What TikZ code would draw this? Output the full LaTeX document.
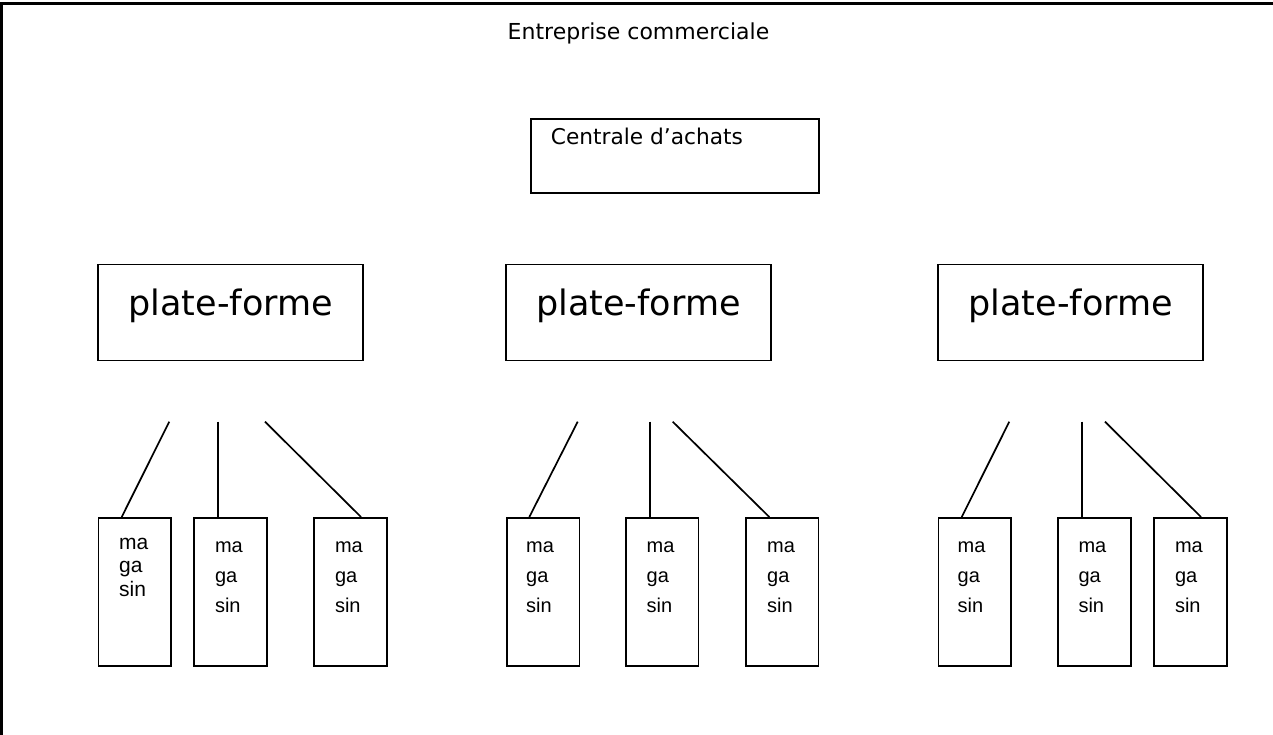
\documentclass[tikz,border=0pt]{standalone}
\usepackage{fontspec}
\newfontfamily\geneva{DejaVu Sans}
\newfontfamily\arialf{Liberation Sans}
\begin{document}
\begin{tikzpicture}[x=1pt,y=-1pt,
  box/.style={draw, line width=1.9pt, rectangle, inner sep=0pt},
  platebox/.style={box, minimum width=265pt, minimum height=96pt, anchor=north west,
    font=\geneva\fontsize{35}{40}\selectfont, text height=26.6pt, text depth=20.6pt},
  magbox/.style={box, minimum width=72.5pt, minimum height=148pt, anchor=north west},
  magtxt/.style={inner sep=0pt, anchor=north west, align=left, font=\arialf\fontsize{20}{30}\selectfont},
  magtxtA/.style={inner sep=0pt, anchor=north west, align=left, font=\arialf\fontsize{21}{23.5}\selectfont},
  link/.style={line width=1.7pt}]
\useasboundingbox (0,0) rectangle (1273,735);
% frame
\coordinate (fbl) at (1.5,735);
\coordinate (ftl) at (1.5,3.5);
\coordinate (ftr) at (1273,3.5);
\draw[line width=2.2pt] (fbl) -- (ftl) -- (ftr);
% title
\node[anchor=base, inner sep=0pt, font=\geneva\fontsize{22}{26}\selectfont] (title) at (638.5,40) {Entreprise commerciale};
% centrale
\node[box, minimum width=288pt, minimum height=73.5pt, anchor=north west] (centrale) at (530,118.3) {};
\node[anchor=base west, inner sep=0pt, font=\geneva\fontsize{21.7}{26}\selectfont] (centraletxt) at (550.7,145) {Centrale d’achats};
% plate-formes
\node[platebox] (p1) at (97.3,263.5) {plate-forme};
\node[platebox] (p2) at (505,263.5) {plate-forme};
\node[platebox] (p3) at (937.3,263.5) {plate-forme};
% magasins
\node[magbox] (m11) at (97.5,517) {};
\node[magbox] (m12) at (193.3,516.7) {};
\node[magbox] (m13) at (313.3,517) {};
\node[magbox] (m21) at (506,517) {};
\node[magbox] (m22) at (625,517) {};
\node[magbox] (m23) at (745,517) {};
\node[magbox] (m31) at (937.5,517) {};
\node[magbox] (m32) at (1057.3,517) {};
\node[magbox] (m33) at (1153.3,517) {};
% magasin texts
\node[magtxtA] (t11) at ([shift={(21.5pt,-20.5pt)}]m11.north west) {ma\\ga\\sin};
\node[magtxt] (t12) at ([shift={(21.5pt,-24.5pt)}]m12.north west) {ma\\ga\\sin};
\node[magtxt] (t13) at ([shift={(21.5pt,-24.5pt)}]m13.north west) {ma\\ga\\sin};
\node[magtxt] (t21) at ([shift={(20pt,-24.5pt)}]m21.north west) {ma\\ga\\sin};
\node[magtxt] (t22) at ([shift={(21.5pt,-24.5pt)}]m22.north west) {ma\\ga\\sin};
\node[magtxt] (t23) at ([shift={(22pt,-24.5pt)}]m23.north west) {ma\\ga\\sin};
\node[magtxt] (t31) at ([shift={(20pt,-24.5pt)}]m31.north west) {ma\\ga\\sin};
\node[magtxt] (t32) at ([shift={(21pt,-24.5pt)}]m32.north west) {ma\\ga\\sin};
\node[magtxt] (t33) at ([shift={(21.5pt,-24.5pt)}]m33.north west) {ma\\ga\\sin};
% connector free ends
\coordinate (c11) at (169.3,421.7);
\coordinate (c12) at (217.7,421.7);
\coordinate (c13) at (265,421.7);
\coordinate (c21) at (577.7,421.7);
\coordinate (c22) at (650,421.7);
\coordinate (c23) at (672.7,421.7);
\coordinate (c31) at (1009.3,421.7);
\coordinate (c32) at (1081.7,421.7);
\coordinate (c33) at (1105,421.7);
\draw[link] (c11) -- ([xshift=24.2pt]m11.north west);
\draw[link] (c12) -- ([xshift=24.4pt]m12.north west);
\draw[link] (c13) -- ([xshift=47.7pt]m13.north west);
\draw[link] (c21) -- ([xshift=23.3pt]m21.north west);
\draw[link] (c22) -- ([xshift=25pt]m22.north west);
\draw[link] (c23) -- ([xshift=24.3pt]m23.north west);
\draw[link] (c31) -- ([xshift=24.2pt]m31.north west);
\draw[link] (c32) -- ([xshift=24.4pt]m32.north west);
\draw[link] (c33) -- ([xshift=47.7pt]m33.north west);
\end{tikzpicture}
\end{document}
